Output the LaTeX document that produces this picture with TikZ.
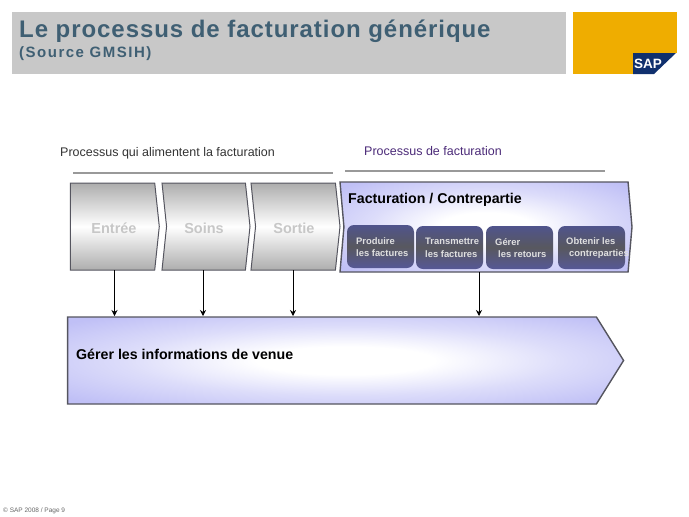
\documentclass[tikz,border=0pt]{standalone}
\usepackage{fontspec}
\setmainfont{Liberation Sans}
\newfontfamily\titlefont[LetterSpace=3.9]{Liberation Sans}
\newfontfamily\sourcefont[LetterSpace=10]{Liberation Sans}
\usetikzlibrary{arrows.meta,shapes.symbols,calc}
\definecolor{bargrey}{HTML}{C8C8C8}
\definecolor{logoorange}{HTML}{EFAD00}
\definecolor{logoblue}{HTML}{10306E}
\definecolor{titleink}{HTML}{3F5F73}
\definecolor{inkgrey}{HTML}{333333}
\definecolor{plum}{HTML}{4B2A78}
\definecolor{edgegrey}{HTML}{55555F}
\definecolor{softblue}{HTML}{C0C0F6}
\definecolor{boxtop}{HTML}{50548C}
\definecolor{boxmid}{HTML}{58585F}
\definecolor{boxlow}{HTML}{565896}
\pgfdeclareradialshading{glow}{\pgfpoint{0bp}{0bp}}{%
  color(0bp)=(white); color(8bp)=(white); color(20bp)=(softblue!55); color(33bp)=(softblue); color(100bp)=(softblue)}
\tikzset{
  stepchev/.style = {signal, signal to=east, draw=edgegrey, line width=1pt, inner sep=0pt, outer sep=0pt,
                   top color=black!32, bottom color=black!32, middle color=white},
  steptext/.style = {inner sep=0pt, text=black!22, font=\fontsize{14.5}{16}\selectfont\bfseries},
  bluechev/.style = {signal, signal to=east, draw=edgegrey, line width=1.4pt, inner sep=0pt, outer sep=0pt,
                   shading=glow},
  bluetext/.style = {anchor=west, inner sep=0pt, font=\fontsize{14.2}{16}\selectfont\bfseries},
  subbox/.style   = {rounded corners=7pt, inner sep=0pt, outer sep=0pt, minimum width=67pt, minimum height=43pt,
                   top color=boxtop, bottom color=boxlow, middle color=boxmid},
  subtext/.style  = {anchor=west, align=left, inner sep=0pt, text=black!12,
                   font=\fontsize{9.4}{12.5}\selectfont\bfseries},
  headtext/.style = {anchor=west, inner sep=0pt, font=\fontsize{12.5}{14}\selectfont},
  flow/.style     = {-{Stealth[length=6pt,width=6pt]}, draw=black, line width=0.8pt, shorten >=1pt},
  headrule/.style = {draw=black!40, line width=1.2pt},
}
\begin{document}
\begin{tikzpicture}[x=1pt,y=-1pt]
  \useasboundingbox (0,0) rectangle (689,517);
  % header
  \node[fill=bargrey,minimum width=553.5pt,minimum height=62pt,inner sep=0pt] (bar) at (288.75,43) {};
  \node[fill=logoorange,minimum width=104pt,minimum height=62pt,inner sep=0pt] (logo) at (625,43) {};
  \fill[white] (633,53) rectangle (689,75);
  \fill[logoorange] (633,12) rectangle (677,53);
  \fill[logoblue] (633,53) -- (676,53) -- (654,74) -- (633,74) -- cycle;
  \node[text=white,inner sep=0pt,font=\fontsize{13.5}{14}\selectfont\bfseries] (saplogo) at (648,64) {SAP};
  \node[anchor=base west,inner sep=0pt,text=titleink,font=\titlefont\fontsize{24}{24}\selectfont\bfseries] (title) at (19,37) {Le processus de facturation générique};
  \node[anchor=base west,inner sep=0pt,text=titleink,font=\sourcefont\fontsize{15}{15}\selectfont\bfseries] (source) at (19,57) {(Source GMSIH)};
  % column heads
  \node[headtext,text=inkgrey] (feedhead) at (60,153.5) {Processus qui alimentent la facturation};
  \node[headtext,text=plum] (billhead) at (364,151) {Processus de facturation};
  \coordinate (feedl) at (73,173);
  \coordinate (feedr) at (333,173);
  \coordinate (billl) at (345,171);
  \coordinate (billr) at (605,171);
  \draw[headrule] (feedl) -- (feedr);
  \draw[headrule] (billl) -- (billr);
  % chevrons
  \node[stepchev,signal from=nowhere,signal pointer angle=168,minimum width=89pt,minimum height=87pt] (entree) at (112.5,226.5) {};
  \node[stepchev,signal from=west,signal pointer angle=168,minimum width=88pt,minimum height=87pt] (soins) at (206,226.5) {};
  \node[stepchev,signal from=west,signal pointer angle=168,minimum width=89pt,minimum height=87pt] (sortie) at (295.5,226.5) {};
  \node[steptext] (entreetext) at (114,228) {Entrée};
  \node[steptext] (soinstext) at (204,228) {Soins};
  \node[steptext] (sortietext) at (294,228) {Sortie};
  \node[bluechev,signal from=west,signal pointer angle=170,minimum width=292pt,minimum height=90pt] (fact) at (486,227) {};
  \node[bluetext] (facttext) at (348,200) {Facturation / Contrepartie};
  % boxes inside
  \node[subbox] (produire) at (380.5,246.5) {};
  \node[subbox] (transmettre) at (449.5,247.5) {};
  \node[subbox] (gerer) at (519.5,247.5) {};
  \node[subbox] (obtenir) at (591.5,247.5) {};
  \node[subtext] (produiretext) at (356,247) {Produire\\les factures};
  \node[subtext] (transmettretext) at (425,248) {Transmettre\\les factures};
  \node[subtext] (gerertext) at (495,248) {Gérer\\\hspace*{3pt}les retours};
  \node[subtext] (obtenirtext) at (566,248) {Obtenir les\\\hspace*{3pt}contreparties};
  % bottom
  \node[bluechev,signal from=nowhere,signal pointer angle=116,minimum width=556pt,minimum height=87pt] (venue) at (332,360.5) {};
  \node[bluetext] (venuetext) at (76,354) {Gérer les informations de venue};
  % arrows
  \coordinate (factout) at (479,272);
  \draw[flow] ([xshift=2pt]entree.south) -- ([xshift=2pt]entree.south |- venue.north);
  \draw[flow] ([xshift=-3pt]soins.south) -- ([xshift=-3pt]soins.south |- venue.north);
  \draw[flow] ([xshift=-2.5pt]sortie.south) -- ([xshift=-2.5pt]sortie.south |- venue.north);
  \draw[flow] (factout) -- (factout |- venue.north);
  % footer
  \node[anchor=west,inner sep=0pt,text=black!60,font=\fontsize{6.5}{7}\selectfont] (footer) at (3,511) {© SAP 2008 / Page 9};
\end{tikzpicture}
\end{document}
